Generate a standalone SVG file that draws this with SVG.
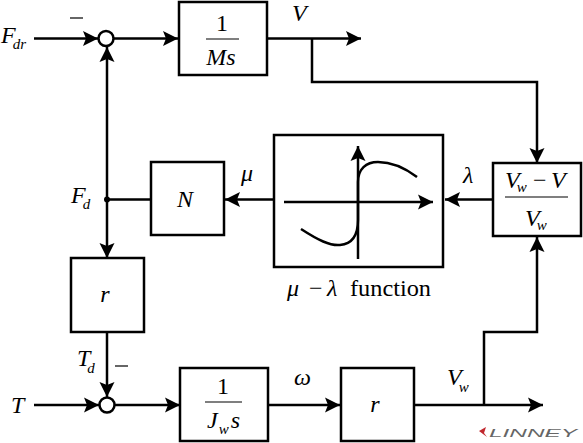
<svg xmlns="http://www.w3.org/2000/svg" width="583" height="443" viewBox="0 0 583 443" font-family="'Liberation Serif','Times New Roman',serif">
<style>
.b{fill:#fff;stroke:#000;stroke-width:2.5}
.c{fill:none;stroke:#000;stroke-width:2.5}
text{font-family:'Liberation Serif','Times New Roman',serif;fill:#000}
.i{font-style:italic;font-size:24px}
.s{font-style:italic;font-size:15px}
.l{stroke:#000;stroke-width:1.2}
</style>
<defs>
<marker id="a" markerUnits="userSpaceOnUse" markerWidth="18" markerHeight="18" refX="15" refY="9" orient="auto"><path d="M0 1.5L15 9L0 16.5L3 9Z" fill="#000"/></marker>
</defs>
<g id="connectors">
<path class="c" d="M34 38.500H98" marker-end="url(#a)"/>
<path class="c" d="M114 38.500H178" marker-end="url(#a)"/>
<path class="c" d="M267 38.500H361" marker-end="url(#a)"/>
<path class="c" d="M312 38.500V82H537V163" marker-end="url(#a)"/>
<path class="c" d="M107 199.500V47" marker-end="url(#a)"/>
<path class="c" d="M151 199.500H107V258" marker-end="url(#a)"/>
<path class="c" d="M274 199.500H225" marker-end="url(#a)"/>
<path class="c" d="M493 199.500H445" marker-end="url(#a)"/>
<path class="c" d="M107 332V397" marker-end="url(#a)"/>
<path class="c" d="M34 405H99" marker-end="url(#a)"/>
<path class="c" d="M115 405H180" marker-end="url(#a)"/>
<path class="c" d="M268 405H340" marker-end="url(#a)"/>
<path class="c" d="M414 405H543" marker-end="url(#a)"/>
<path class="c" d="M484 405V332H537V237" marker-end="url(#a)"/>
<circle cx="107" cy="199.500" r="3" fill="#000"/>
</g>
<g id="sum1"><circle class="b" cx="106" cy="38.500" r="7.500"/><path class="l" d="M70 18H83"/></g>
<g id="sum2"><circle class="b" cx="107" cy="405" r="7.500"/><path class="l" d="M115 366H128"/></g>
<g id="ms"><rect class="b" x="179" y="2" width="88" height="73"/><path class="l" d="M206 39H239"/><text x="222" y="31" font-size="24" text-anchor="middle">1</text><text class="i" x="221" y="65" text-anchor="middle">Ms</text></g>
<g id="n"><rect class="b" x="151" y="162" width="73" height="73"/><text class="i" x="185" y="207" text-anchor="middle">N</text></g>
<g id="func">
<rect class="b" x="274" y="135" width="169" height="132"/>
<path class="c" d="M284 202H433" marker-end="url(#a)"/>
<path class="c" d="M358 259V146" marker-end="url(#a)"/>
<path class="c" d="M301 229C318 240 330 246 340 245C352 244 358 236 358 220V182C358 169 366 162 378 162C392 162 405 168 417 177"/>
</g>
<g id="slip"><rect class="b" x="493" y="163" width="88" height="73"/><path class="l" d="M505 197H568"/><text class="i" x="505" y="188">V<tspan class="s" dx="-3" dy="4">w</tspan></text><text x="533" y="188" font-size="24">−</text><text class="i" x="551" y="188">V</text><text class="i" x="525" y="226">V<tspan class="s" dx="-3" dy="4">w</tspan></text></g>
<g id="r1"><rect class="b" x="71" y="258" width="73" height="74"/><text class="i" x="105" y="302" text-anchor="middle">r</text></g>
<g id="jw"><rect class="b" x="180" y="368" width="88" height="73"/><path class="l" d="M205 402H242"/><text x="223" y="394" font-size="24" text-anchor="middle">1</text><text class="i" x="207" y="428">J<tspan class="s" dx="1" dy="6">w</tspan><tspan dx="2" dy="-6">s</tspan></text></g>
<g id="r2"><rect class="b" x="341" y="368" width="73" height="73"/><text class="i" x="375" y="412" text-anchor="middle">r</text></g>
<g id="labels">
<text class="i" x="1" y="43">F<tspan class="s" dx="-3" dy="6">dr</tspan></text>
<text class="i" x="292" y="21">V</text>
<text class="i" x="71" y="203">F<tspan class="s" dx="-3" dy="6">d</tspan></text>
<text class="i" x="241" y="181">μ</text>
<text class="i" x="463" y="183">λ</text>
<text y="296" font-size="24"><tspan x="287" font-style="italic">μ</tspan><tspan x="309">−</tspan><tspan x="327" font-style="italic">λ</tspan><tspan x="350" textLength="81" lengthAdjust="spacingAndGlyphs">function</tspan></text>
<text class="i" x="77" y="366">T<tspan class="s" dx="-3" dy="7">d</tspan></text>
<text class="i" x="11" y="413">T</text>
<text class="i" x="294" y="385">ω</text>
<text class="i" x="447" y="385">V<tspan class="s" dx="-3" dy="7">w</tspan></text>
</g>
<g id="logo"><path d="M479 431L486 427L484 433L487 437Z" fill="#c0272d"/><text x="489" y="437" style="font-family:'Liberation Sans',sans-serif;fill:#666" font-style="italic" font-size="11" textLength="88" lengthAdjust="spacingAndGlyphs">LINNEY</text></g>
</svg>
